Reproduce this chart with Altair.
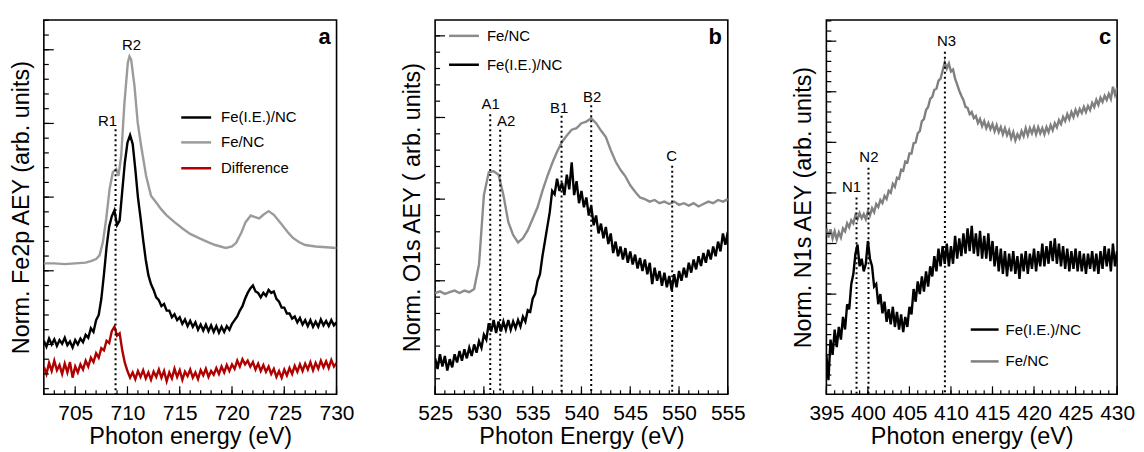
import altair as alt
import pandas as pd

FONT = "Liberation Sans"
H = 376
W_A, W_B, W_C = 294, 294, 292
GAP = 99

# ---------------- Panel a : Fe 2p ----------------
a_gray_E = [702, 703, 704, 705, 706, 706.5, 707.0, 707.33, 707.65, 707.97,
            708.29, 708.6, 708.92, 709.14, 709.4, 709.71, 710.03, 710.19, 710.35, 710.67,
            710.98, 711.3, 711.78, 712.25, 712.73, 713.2, 713.7, 714.5, 715.3, 716.0,
            716.9, 717.7, 718.4, 719.4, 720.0, 720.4, 720.9, 721.3, 721.8, 722.2,
            722.6, 723.0, 723.5, 724.0, 724.8, 725.3, 725.8, 726.4, 727.0, 728.0,
            729.0, 730.0]
a_gray_v = [1.10, 1.10, 1.09, 1.10, 1.11, 1.13, 1.16, 1.21, 1.39, 1.71,
            2.11, 2.34, 2.38, 2.29, 2.56, 3.28, 3.82, 3.91, 3.87, 3.51,
            3.01, 2.70, 2.29, 2.02, 1.93, 1.84, 1.76, 1.66, 1.57, 1.50,
            1.44, 1.39, 1.35, 1.31, 1.33, 1.38, 1.52, 1.66, 1.75, 1.73,
            1.71, 1.76, 1.81, 1.76, 1.62, 1.53, 1.45, 1.39, 1.35, 1.33,
            1.32, 1.31]
a_grid_E = [702 + 0.25 * i for i in range(113)]
a_black_v = [
    0.05, -0.03, 0.08, 0.00,   # 702
    0.07, -0.02, 0.06, 0.01,   # 703
    0.09, -0.01, 0.04, -0.04,  # 704
    0.06, 0.00, 0.08, 0.03,    # 705
    0.13, 0.09, 0.22, 0.17,    # 706
    0.33, 0.40, 0.62, 0.95,    # 707
    1.32, 1.60, 1.74, 1.82,    # 708
    1.62, 1.68, 2.08, 2.47,    # 709
    2.74, 2.84, 2.72, 2.38,    # 710
    2.00, 1.72, 1.42, 1.15,    # 711
    0.94, 0.82, 0.74, 0.64,    # 712
    0.60, 0.52, 0.55, 0.46,    # 713
    0.46, 0.37, 0.41, 0.33,    # 714
    0.37, 0.28, 0.34, 0.25,    # 715
    0.32, 0.24, 0.30, 0.20,    # 716
    0.27, 0.19, 0.27, 0.18,    # 717
    0.26, 0.17, 0.25, 0.16,    # 718
    0.24, 0.17, 0.25, 0.20,    # 719
    0.28, 0.33, 0.38, 0.46,    # 720
    0.52, 0.62, 0.70, 0.76,    # 721
    0.80, 0.72, 0.70, 0.64,    # 722
    0.70, 0.66, 0.74, 0.70,    # 723
    0.72, 0.62, 0.58, 0.50,    # 724
    0.50, 0.42, 0.42, 0.35,    # 725
    0.38, 0.30, 0.36, 0.27,    # 726
    0.33, 0.25, 0.33, 0.24,    # 727
    0.31, 0.24, 0.34, 0.26,    # 728
    0.32, 0.25, 0.33, 0.26,    # 729
    0.30]
a_red_v = [
    -0.30, -0.40, -0.25, -0.36,  # 702
    -0.22, -0.35, -0.28, -0.40,  # 703
    -0.26, -0.38, -0.24, -0.45,  # 704
    -0.30, -0.38, -0.27, -0.34,  # 705
    -0.22, -0.30, -0.18, -0.24,  # 706
    -0.12, -0.18, -0.05, -0.08,  # 707
    0.05, 0.02, 0.18, 0.24,      # 708
    0.12, 0.15, -0.08, -0.25,    # 709
    -0.36, -0.45, -0.38, -0.47,  # 710
    -0.36, -0.44, -0.35, -0.46,  # 711
    -0.38, -0.48, -0.37, -0.44,  # 712
    -0.34, -0.45, -0.36, -0.50,  # 713
    -0.38, -0.46, -0.33, -0.44,  # 714
    -0.35, -0.48, -0.37, -0.43,  # 715
    -0.34, -0.45, -0.38, -0.47,  # 716
    -0.35, -0.42, -0.33, -0.44,  # 717
    -0.36, -0.41, -0.32, -0.40,  # 718
    -0.30, -0.38, -0.28, -0.36,  # 719
    -0.27, -0.33, -0.22, -0.30,  # 720
    -0.20, -0.27, -0.22, -0.30,  # 721
    -0.24, -0.34, -0.26, -0.36,  # 722
    -0.28, -0.37, -0.30, -0.40,  # 723
    -0.33, -0.44, -0.36, -0.45,  # 724
    -0.34, -0.42, -0.32, -0.40,  # 725
    -0.29, -0.37, -0.27, -0.36,  # 726
    -0.26, -0.34, -0.24, -0.35,  # 727
    -0.25, -0.33, -0.22, -0.31,  # 728
    -0.23, -0.32, -0.21, -0.30,  # 729
    -0.25]
a_marker_E = [708.86]
a_marker_top = [2.92]
a_label_text = ["R1", "R2"]
a_label_E = [708.1, 710.38]
a_label_v = [2.97, 4.0]

# ---------------- Panel b : O 1s ----------------
b_gray_E = [525 + 0.5 * i for i in range(61)]
b_gray_v = [
    0.85, 0.87, 0.84, 0.86, 0.88, 0.85, 0.88, 0.86, 0.90, 1.20,   # 525-529.5
    2.05, 2.33, 2.34, 2.30, 2.05, 1.72, 1.56, 1.47, 1.52, 1.62,   # 530-534.5
    1.76, 1.90, 2.10, 2.28, 2.44, 2.58, 2.70, 2.78, 2.85, 2.87,   # 535-539.5
    2.93, 2.95, 2.99, 2.93, 2.84, 2.76, 2.60, 2.46, 2.36, 2.28,   # 540-544.5
    2.17, 2.09, 2.02, 2.00, 1.97, 1.99, 1.95, 1.97, 1.94, 1.97,   # 545-549.5
    1.93, 1.95, 1.92, 1.95, 1.91, 1.94, 1.97, 1.95, 1.99, 1.97,   # 550-554.5
    2.00]
b_grid_E = [525 + 0.25 * i for i in range(121)]
b_black_v = [
    0.05, -0.08, 0.10, -0.05,  # 525
    0.08, -0.10, 0.04, -0.06,  # 526
    0.10, 0.00, 0.14, 0.02,    # 527
    0.16, 0.05, 0.18, 0.08,    # 528
    0.22, 0.12, 0.26, 0.18,    # 529
    0.34, 0.28, 0.48, 0.38,    # 530
    0.52, 0.36, 0.50, 0.38,    # 531
    0.50, 0.40, 0.52, 0.40,    # 532
    0.50, 0.42, 0.52, 0.44,    # 533
    0.56, 0.50, 0.64, 0.62,    # 534
    0.78, 0.84, 1.00, 1.08,    # 535
    1.30, 1.48, 1.66, 1.84,    # 536
    2.10, 2.06, 2.25, 2.10,    # 537
    2.20, 2.05, 2.30, 2.12,    # 538
    2.45, 2.05, 2.22, 1.95,    # 539
    2.10, 1.90, 2.02, 1.80,    # 540
    1.92, 1.68, 1.80, 1.58,    # 541
    1.70, 1.52, 1.66, 1.45,    # 542
    1.58, 1.34, 1.48, 1.30,    # 543
    1.42, 1.26, 1.40, 1.22,    # 544
    1.36, 1.20, 1.32, 1.15,    # 545
    1.28, 1.12, 1.26, 1.08,    # 546
    1.22, 0.96, 1.16, 1.00,    # 547
    1.12, 0.94, 1.10, 0.92,    # 548
    1.06, 0.88, 1.08, 0.92,    # 549
    1.12, 1.00, 1.16, 1.04,    # 550
    1.22, 1.10, 1.26, 1.14,    # 551
    1.30, 1.18, 1.34, 1.22,    # 552
    1.38, 1.26, 1.42, 1.30,    # 553
    1.48, 1.36, 1.58, 1.44,    # 554
    1.60]
b_marker_E = [530.65, 531.67, 537.96, 541.0, 549.3]
b_marker_top = [3.04, 2.85, 3.02, 3.15, 2.41]
b_label_text = ["A1", "A2", "B1", "B2", "C"]
b_label_E = [530.7, 532.28, 537.72, 541.09, 549.25]
b_label_v = [3.10, 2.90, 3.05, 3.19, 2.47]

# ---------------- Panel c : N 1s ----------------
c_grid_E = [395 + 0.25 * i for i in range(141)]
c_gray_v = [
    2.30, 2.12, 2.28, 2.10,  # 395
    2.24, 2.08, 2.22, 2.12,  # 396
    2.30, 2.24, 2.40, 2.32,  # 397
    2.46, 2.40, 2.56, 2.48,  # 398
    2.60, 2.50, 2.58, 2.48,  # 399
    2.64, 2.56, 2.70, 2.62,  # 400
    2.78, 2.72, 2.86, 2.80,  # 401
    2.94, 2.88, 3.04, 3.00,  # 402
    3.18, 3.12, 3.30, 3.28,  # 403
    3.46, 3.44, 3.62, 3.60,  # 404
    3.78, 3.78, 3.98, 4.00,  # 405
    4.18, 4.22, 4.42, 4.46,  # 406
    4.64, 4.70, 4.86, 4.90,  # 407
    5.04, 5.06, 5.22, 5.26,  # 408
    5.42, 5.58, 5.46, 5.56,  # 409
    5.40, 5.44, 5.26, 5.14,  # 410
    5.02, 4.92, 4.84, 4.70,  # 411
    4.68, 4.56, 4.60, 4.48,  # 412
    4.52, 4.38, 4.46, 4.32,  # 413
    4.42, 4.28, 4.38, 4.26,  # 414
    4.36, 4.22, 4.34, 4.20,  # 415
    4.30, 4.16, 4.28, 4.14,  # 416
    4.24, 4.08, 4.20, 4.04,  # 417
    4.16, 4.08, 4.22, 4.12,  # 418
    4.28, 4.14, 4.28, 4.18,  # 419
    4.30, 4.16, 4.30, 4.18,  # 420
    4.28, 4.16, 4.30, 4.20,  # 421
    4.34, 4.24, 4.38, 4.30,  # 422
    4.44, 4.36, 4.50, 4.42,  # 423
    4.56, 4.46, 4.60, 4.50,  # 424
    4.64, 4.54, 4.66, 4.58,  # 425
    4.70, 4.60, 4.72, 4.64,  # 426
    4.78, 4.70, 4.84, 4.74,  # 427
    4.88, 4.80, 4.92, 4.84,  # 428
    4.96, 4.86, 5.10, 4.94,  # 429
    5.08]
c_black_v = [
    -0.20, -0.70, 0.10, -0.20,  # 395
    0.30, -0.05, 0.35, 0.10,    # 396
    0.55, 0.30, 0.80, 0.70,     # 397
    1.20, 1.40, 1.80, 1.98,     # 398
    1.55, 1.70, 1.45, 1.60,     # 399
    2.05, 1.70, 1.55, 1.15,     # 400
    1.20, 0.80, 1.00, 0.62,     # 401
    0.85, 0.45, 0.70, 0.40,     # 402
    0.75, 0.35, 0.65, 0.30,     # 403
    0.60, 0.25, 0.55, 0.35,     # 404
    0.75, 0.60, 1.10, 0.85,     # 405
    1.25, 1.00, 1.35, 1.05,     # 406
    1.45, 1.15, 1.55, 1.35,     # 407
    1.75, 1.45, 1.90, 1.55,     # 408
    1.95, 1.60, 2.00, 1.55,     # 409
    1.95, 1.60, 2.15, 1.70,     # 410
    2.10, 1.75, 2.20, 1.80,     # 411
    2.30, 1.85, 2.35, 1.80,     # 412
    2.20, 1.75, 2.25, 1.70,     # 413
    2.15, 1.70, 2.20, 1.65,     # 414
    2.05, 1.55, 1.95, 1.45,     # 415
    1.90, 1.40, 1.85, 1.35,     # 416
    1.80, 1.45, 1.85, 1.40,     # 417
    1.75, 1.30, 1.80, 1.45,     # 418
    1.85, 1.40, 1.80, 1.50,     # 419
    1.90, 1.45, 1.85, 1.55,     # 420
    2.00, 1.55, 1.95, 1.60,     # 421
    2.05, 1.65, 2.10, 1.60,     # 422
    2.00, 1.55, 1.95, 1.50,     # 423
    1.90, 1.45, 1.85, 1.50,     # 424
    1.90, 1.45, 1.85, 1.45,     # 425
    1.80, 1.40, 1.80, 1.50,     # 426
    1.85, 1.45, 1.80, 1.40,     # 427
    1.85, 1.50, 1.95, 1.55,     # 428
    1.90, 1.45, 2.00, 1.55,     # 429
    1.85]
c_marker_E = [398.63, 400.07, 409.27]
c_marker_top = [2.91, 3.50, 5.79]
c_label_text = ["N1", "N2", "N3"]
c_label_E = [398.04, 400.12, 409.47]
c_label_v = [3.01, 3.62, 5.91]

# axis ranges
A_XDOM, A_YDOM = [702, 730], [-0.676, 4.405]
B_XDOM, B_YDOM = [525, 555], [-0.39, 4.195]
C_XDOM, C_YDOM = [395, 430], [-0.98, 6.42]

# tick values (major labelled every 5 eV, minor every 1 eV; y major every unit, minor every 0.2)
a_xmajor, a_xminor = list(range(705, 731, 5)), list(range(702, 731))
b_xmajor, b_xminor = list(range(525, 556, 5)), list(range(525, 556))
c_xmajor, c_xminor = list(range(395, 431, 5)), list(range(395, 431))
a_ymajor, a_yminor = [0, 1, 2, 3, 4], [round(0.2 * k, 1) for k in range(-3, 23)]
b_ymajor, b_yminor = [0, 1, 2, 3, 4], [round(0.2 * k, 1) for k in range(-1, 21)]
c_ymajor, c_yminor = [0, 1, 2, 3, 4, 5, 6], [round(0.2 * k, 1) for k in range(-4, 33)]

S_IE, S_NC, S_DIFF = "Fe(I.E.)/NC", "Fe/NC", "Difference"
BLACK, RED = "#000000", "#b00000"


def xaxis(title, major):
    return alt.Axis(
        title=title, values=major, grid=False, domain=False, ticks=False,
        labelPadding=8, labelFontSize=21, labelFont=FONT, labelColor="black",
        labelFlush=False, labelOverlap=False,
        titleFontSize=23.5, titleFont=FONT, titleFontWeight="normal", titleColor="black",
        titlePadding=1)


def yaxis(title, major):
    return alt.Axis(
        title=title, values=major, grid=False, domain=False, labels=False, ticks=False,
        titleFontSize=23.5, titleFont=FONT, titleFontWeight="normal", titleColor="black",
        titlePadding=10.5)


def tick_layers(xmaj, xmin, ymaj, ymin):
    out = []
    for vals, ln in ((xmin, 4), (xmaj, 8)):
        out.append(alt.Chart(pd.DataFrame({"E": vals})).mark_rule(color="black", strokeWidth=1.2)
                   .encode(x="E:Q", y=alt.value(H), y2=alt.value(H - ln)))
    for vals, ln in ((ymin, 5), (ymaj, 10)):
        out.append(alt.Chart(pd.DataFrame({"v": vals})).mark_rule(color="black", strokeWidth=1.2)
                   .encode(y="v:Q", x=alt.value(0), x2=alt.value(ln)))
    return out


def panel(width, xdom, ydom, xax, yax, ticks, series, mk_E, mk_top, lb_txt, lb_E, lb_v,
          letter, legend):
    frames = []
    for name, E, v, col in series:
        frames.append(pd.DataFrame({"E": E, "v": v, "s": name}))
    df = pd.concat(frames, ignore_index=True)
    names = [s[0] for s in series]
    cols = [s[3] for s in series]
    xs = alt.Scale(domain=xdom, nice=False, zero=False)
    ys = alt.Scale(domain=ydom, nice=False, zero=False)
    lines = alt.Chart(df).mark_line(strokeWidth=2.4, clip=True).encode(
        x=alt.X("E:Q", scale=xs, axis=xax),
        y=alt.Y("v:Q", scale=ys, axis=yax),
        color=alt.Color("s:N", scale=alt.Scale(domain=names, range=cols), legend=None),
        order=alt.Order("E:Q"),
    )
    mk = pd.DataFrame({"E": mk_E, "v": mk_top, "bot": [ydom[0]] * len(mk_E)})
    rules = alt.Chart(mk).mark_rule(strokeDash=[2, 3], strokeWidth=2, color="black").encode(
        x="E:Q", y="v:Q", y2="bot:Q")
    lb = pd.DataFrame({"E": lb_E, "v": lb_v, "t": lb_txt})
    labels = alt.Chart(lb).mark_text(font=FONT, fontSize=15, align="center",
                                     baseline="alphabetic", color="black").encode(
        x="E:Q", y="v:Q", text="t:N")
    one = pd.DataFrame({"k": [0]})
    let = alt.Chart(one).mark_text(font=FONT, fontSize=22, fontWeight="bold", align="right",
                                   baseline="alphabetic", color="black").encode(
        x=alt.value(width - 6), y=alt.value(24), text=alt.value(letter))
    layers = [lines, rules, labels, let] + ticks
    lx1, lx2, tx, rows, order = legend
    lookup = {s[0]: s for s in series}
    for nm, ry in zip(order, rows):
        col = lookup[nm][3]
        layers.append(alt.Chart(one).mark_rule(strokeWidth=2.5, color=col).encode(
            x=alt.value(lx1), x2=alt.value(lx2), y=alt.value(ry)))
        layers.append(alt.Chart(one).mark_text(font=FONT, fontSize=15, align="left",
                                               baseline="middle", color="black").encode(
            x=alt.value(tx), y=alt.value(ry), text=alt.value(nm)))
    return alt.layer(*layers).properties(width=width, height=H)


leg_a = (138, 168, 178, [98, 123, 149], [S_IE, S_NC, S_DIFF])
leg_b = (14, 44, 52, [16, 45], [S_NC, S_IE])
leg_c = (145, 173, 180, [311, 343], [S_IE, S_NC])

pa = panel(W_A, A_XDOM, A_YDOM,
           xaxis("Photon energy (eV)", a_xmajor), yaxis("Norm. Fe2p AEY (arb. units)", a_ymajor),
           tick_layers(a_xmajor, a_xminor, a_ymajor, a_yminor),
           [(S_DIFF, a_grid_E, a_red_v, RED), (S_IE, a_grid_E, a_black_v, BLACK),
            (S_NC, a_gray_E, a_gray_v, "#9b9b9b")],
           a_marker_E, a_marker_top, a_label_text, a_label_E, a_label_v, "a", leg_a)
pb = panel(W_B, B_XDOM, B_YDOM,
           xaxis("Photon Energy (eV)", b_xmajor), yaxis("Norm. O1s AEY ( arb. units)", b_ymajor),
           tick_layers(b_xmajor, b_xminor, b_ymajor, b_yminor),
           [(S_NC, b_gray_E, b_gray_v, "#8c8c8c"), (S_IE, b_grid_E, b_black_v, BLACK)],
           b_marker_E, b_marker_top, b_label_text, b_label_E, b_label_v, "b", leg_b)
pc = panel(W_C, C_XDOM, C_YDOM,
           xaxis("Photon energy (eV)", c_xmajor), yaxis("Norm. N1s AEY (arb. units)", c_ymajor),
           tick_layers(c_xmajor, c_xminor, c_ymajor, c_yminor),
           [(S_NC, c_grid_E, c_gray_v, "#808080"), (S_IE, c_grid_E, c_black_v, BLACK)],
           c_marker_E, c_marker_top, c_label_text, c_label_E, c_label_v, "c", leg_c)

chart = (
    alt.hconcat(pa, pb, pc, spacing=GAP, bounds="flush")
    .resolve_scale(x="independent", y="independent", color="independent")
    .properties(padding={"left": 0, "top": 9, "right": 0, "bottom": 0}, background="white")
    .configure_view(stroke="black", strokeWidth=1.6)
)

chart.save("out.html", embed_options={"renderer": "svg", "actions": False})
